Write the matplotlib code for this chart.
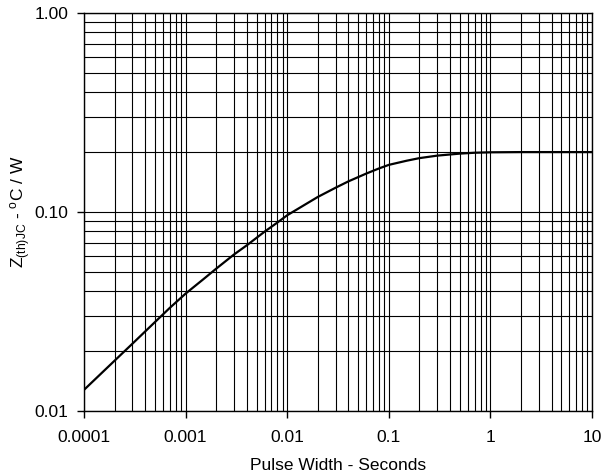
import matplotlib
matplotlib.use("Agg")
import matplotlib.pyplot as plt
from matplotlib.ticker import LogLocator, FixedLocator, NullFormatter

plt.rcParams['font.family'] = ['Liberation Sans', 'DejaVu Sans']
plt.rcParams['mathtext.default'] = 'regular'

# pulse width (s) vs transient thermal impedance (C/W)
pulse_width = [0.0001, 0.0002, 0.0003, 0.0004, 0.0005, 0.0007, 0.001, 0.0015, 0.002,
               0.003, 0.004, 0.006, 0.008, 0.01, 0.015, 0.02, 0.03, 0.04, 0.06,
               0.08, 0.1, 0.15, 0.2, 0.3, 0.5, 0.7, 1, 2, 5, 10]
zth = [0.01277, 0.0179, 0.0218, 0.0251, 0.028, 0.033, 0.0389, 0.046, 0.0519,
       0.0612, 0.068, 0.0797, 0.0885, 0.0963, 0.109, 0.119, 0.1325, 0.1425, 0.156,
       0.1655, 0.1725, 0.181, 0.1865, 0.192, 0.1965, 0.1985, 0.1995, 0.2, 0.2, 0.2]

x_ticks = [0.0001, 0.001, 0.01, 0.1, 1, 10]
x_labels = ["0.0001", "0.001", "0.01", "0.1", "1", "10"]
y_ticks = [0.01, 0.1, 1.0]
y_labels = ["0.01", "0.10", "1.00"]

fig = plt.figure(figsize=(6.1, 4.74), dpi=100)
ax = fig.add_axes([0.1377, 0.1329, 0.8328, 0.8397])

ax.set_xscale('log')
ax.set_yscale('log')
ax.set_xlim(1e-4, 10)
ax.set_ylim(0.01, 1)

ax.plot(pulse_width, zth, color='black', lw=1.6, zorder=3,
        solid_joinstyle='round')

ax.xaxis.set_major_locator(FixedLocator(x_ticks))
ax.set_xticklabels(x_labels)
ax.yaxis.set_major_locator(FixedLocator(y_ticks))
ax.set_yticklabels(y_labels)
ax.xaxis.set_minor_locator(LogLocator(base=10, subs=range(2, 10), numticks=20))
ax.yaxis.set_minor_locator(LogLocator(base=10, subs=range(2, 10), numticks=20))
ax.xaxis.set_minor_formatter(NullFormatter())
ax.yaxis.set_minor_formatter(NullFormatter())

ax.grid(True, which='both', color='black', lw=0.8)
ax.tick_params(which='minor', length=0)
ax.tick_params(which='major', length=5, width=1, labelsize=12.5)
ax.tick_params(axis='x', pad=9)
ax.tick_params(axis='y', pad=6)

for s in ax.spines.values():
    s.set_linewidth(1.0)

ax.set_xlabel("Pulse Width - Seconds", fontsize=12.5, labelpad=9)
ax.set_ylabel("Z$_{(th)JC}$ - $^{o}$C / W", fontsize=12.5, labelpad=1)

fig.savefig("out.png", dpi=100)
